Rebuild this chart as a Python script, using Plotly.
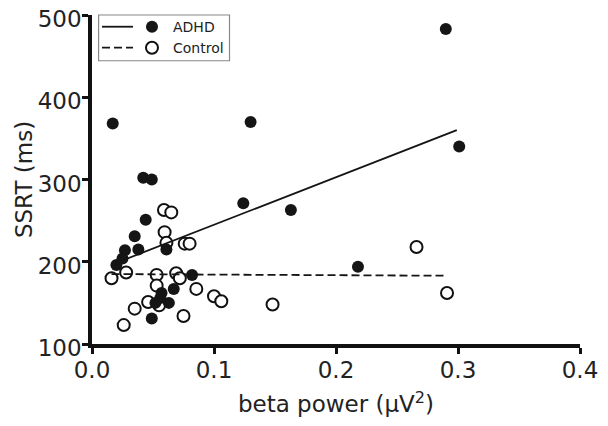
import plotly.graph_objects as go

# ADHD group (filled dots)
adhd_beta = [0.017, 0.042, 0.049, 0.044, 0.035, 0.027, 0.038, 0.061, 0.020, 0.025,
             0.124, 0.130, 0.163, 0.218, 0.290, 0.301, 0.082, 0.067, 0.057, 0.056,
             0.052, 0.063, 0.049]
adhd_ssrt = [368, 302, 300, 251, 231, 214, 215, 215, 196, 204,
             271, 370, 263, 194, 483, 340, 184, 167, 162, 156,
             150, 150, 131]

# Control group (open circles)
ctrl_beta = [0.016, 0.028, 0.026, 0.035, 0.046, 0.053, 0.053, 0.055, 0.059, 0.065,
             0.0595, 0.061, 0.069, 0.072, 0.076, 0.080, 0.075, 0.0855, 0.100, 0.106,
             0.148, 0.266, 0.291]
ctrl_ssrt = [180, 187, 123, 143, 151, 184, 171, 147, 263, 260,
             236, 223, 186, 180, 222, 222, 134, 167, 158, 152,
             148, 218, 162]

# regression lines (end points)
adhd_fit_x = [0.017, 0.299]
adhd_fit_y = [197, 360]
ctrl_fit_x = [0.016, 0.290]
ctrl_fit_y = [185, 183]

legend_names = ["ADHD", "Control"]

FONT = "DejaVu Sans, Verdana, sans-serif"
TXT = "#222222"
DASH = "8px,4px"

fig = go.Figure()

fig.add_trace(go.Scatter(x=ctrl_beta, y=ctrl_ssrt, mode="markers", name="Control",
                         marker=dict(size=12, color="white", line=dict(color="#111111", width=2)),
                         showlegend=False, cliponaxis=False))
fig.add_trace(go.Scatter(x=adhd_beta, y=adhd_ssrt, mode="markers", name="ADHD",
                         marker=dict(size=12, color="#151515", line=dict(width=0)),
                         showlegend=False, cliponaxis=False))
fig.add_trace(go.Scatter(x=adhd_fit_x, y=adhd_fit_y, mode="lines",
                         line=dict(color="#151515", width=1.8), showlegend=False))
fig.add_trace(go.Scatter(x=ctrl_fit_x, y=ctrl_fit_y, mode="lines",
                         line=dict(color="#151515", width=1.8, dash=DASH), showlegend=False))

# hand-made legend: line sample on the left, marker on the right (like the original)
leg_y = [0.9644, 0.9006]
fig.add_shape(type="rect", xref="paper", yref="paper", x0=0.0135, x1=0.2818, y0=0.861, y1=1.0,
              line=dict(color="#888888", width=1.2), fillcolor="white", layer="below")
fig.add_shape(type="line", xref="paper", yref="paper", x0=0.0205, x1=0.084, y0=leg_y[0], y1=leg_y[0],
              line=dict(color="#151515", width=1.8))
fig.add_shape(type="line", xref="paper", yref="paper", x0=0.0205, x1=0.084, y0=leg_y[1], y1=leg_y[1],
              line=dict(color="#151515", width=1.8, dash=DASH))
fig.add_trace(go.Scatter(x=[0.1229], y=[leg_y[0]], xaxis="x2", yaxis="y2", mode="markers",
                         marker=dict(size=12, color="#151515", line=dict(width=0)),
                         showlegend=False, hoverinfo="skip"))
fig.add_trace(go.Scatter(x=[0.1229], y=[leg_y[1]], xaxis="x2", yaxis="y2", mode="markers",
                         marker=dict(size=12, color="white", line=dict(color="#111111", width=2)),
                         showlegend=False, hoverinfo="skip"))
for name, yy in zip(legend_names, leg_y):
    fig.add_annotation(x=0.1618, y=yy, xref="paper", yref="paper", text=name, showarrow=False,
                       xanchor="left", yanchor="middle", font=dict(family=FONT, size=14, color=TXT))

# the page body has an 8px margin, so margins are trimmed by that amount
fig.update_layout(
    width=608, height=426,
    margin=dict(l=84, r=36, t=7, b=90),
    plot_bgcolor="white", paper_bgcolor="white",
    font=dict(family=FONT, size=23, color=TXT),
    showlegend=False,
    xaxis=dict(range=[0, 0.4], tickvals=[0, 0.1, 0.2, 0.3, 0.4],
               ticktext=["0.0", "0.1", "0.2", "0.3", "0.4"],
               showline=True, linecolor="#111111", linewidth=3.5,
               ticks="outside", ticklen=6, tickwidth=2.5, tickcolor="#111111",
               ticklabelstandoff=-3, ticklabeloverflow="allow",
               showgrid=False, zeroline=False, automargin=False,
               title=dict(text="beta power (\u03bcV<sup>2</sup>)", font=dict(size=23), standoff=15)),
    yaxis=dict(range=[100, 500], tickvals=[100, 200, 300, 400, 500],
               showline=True, linecolor="#111111", linewidth=3.5,
               ticks="outside", ticklen=6, tickwidth=2.5, tickcolor="#111111",
               ticklabelstandoff=-4, ticklabelshift=4, ticklabeloverflow="allow",
               showgrid=False, zeroline=False, automargin=False,
               title=dict(text="SSRT (ms)", font=dict(size=23), standoff=0)),
    xaxis2=dict(overlaying="x", range=[0, 1], visible=False),
    yaxis2=dict(overlaying="y", range=[0, 1], visible=False),
)

fig.write_html("out.html")
